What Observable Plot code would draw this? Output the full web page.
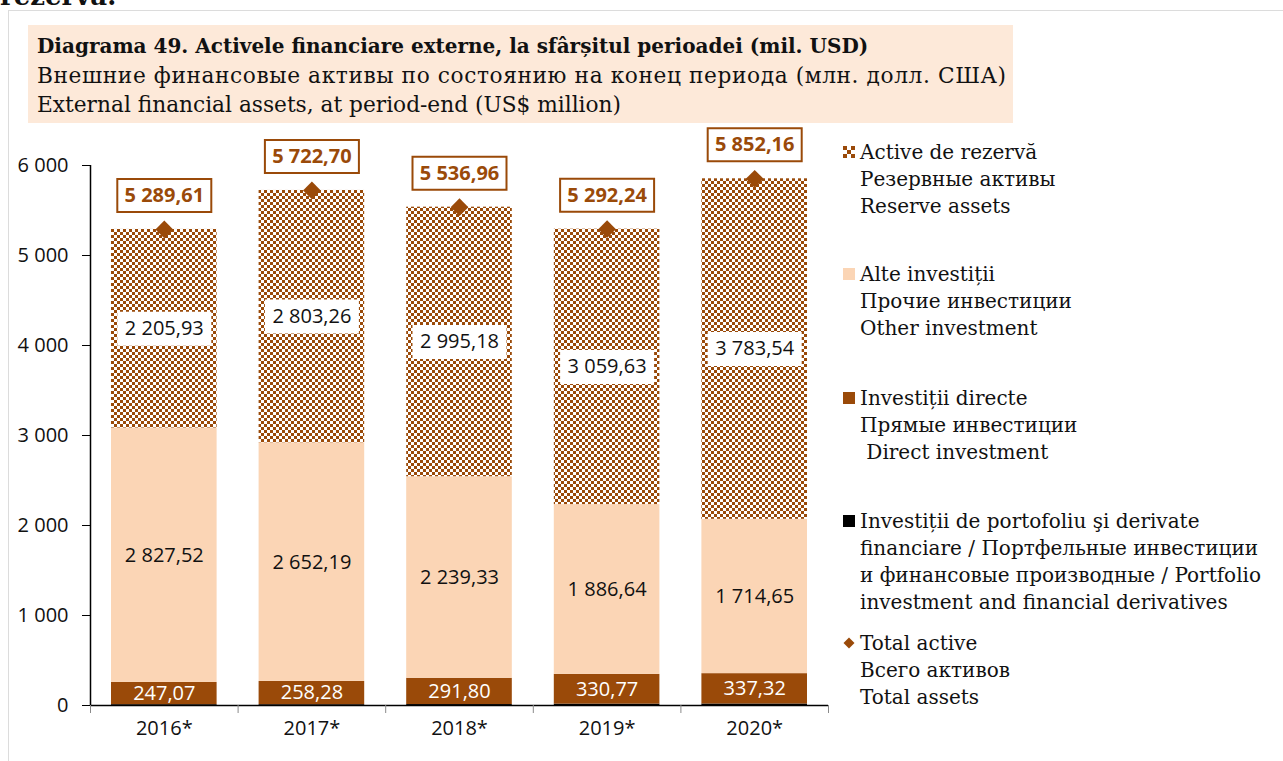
<!DOCTYPE html>
<html><head><meta charset="utf-8">
<script src="https://cdn.jsdelivr.net/npm/d3@7"></script>
<script src="https://cdn.jsdelivr.net/npm/@observablehq/plot@0.6"></script>
<style>
body{margin:0;background:#fff;width:1283px;height:761px;overflow:hidden;position:relative;font-family:"DejaVu Serif",serif;color:#111;}
#frame{position:absolute;left:8px;top:10px;width:1300px;height:800px;border:1px solid #dcdcdc;box-sizing:border-box;}
#cut{position:absolute;left:0;top:-19px;font-weight:bold;font-size:26px;line-height:30px;white-space:nowrap;}
#title{position:absolute;left:28px;top:25px;width:985px;height:98px;background:#FDE9D9;padding:5.5px 9px 0 9px;box-sizing:border-box;font-size:21.7px;line-height:29px;white-space:nowrap;}
#title b{font-size:20px;}
#title .ru{letter-spacing:0.6px;}
#chart{position:absolute;left:0;top:130px;}
.leg{position:absolute;left:860px;font-size:20px;line-height:27px;white-space:nowrap;}
.mk{position:absolute;left:-17px;top:7.5px;width:12px;height:12px;}
</style></head>
<body>
<div id="cut">rezervă.</div>
<div id="frame"></div>
<div id="title"><b>Diagrama 49. Activele financiare externe, la sfârșitul perioadei (mil. USD)</b><br><span class="ru">Внешние финансовые активы по состоянию на конец периода (млн. долл. США)</span><br>External financial assets, at period-end (US$ million)</div>
<div id="chart"></div>
<div id="legend"></div>
<script>
// ---- data ----
const years = ["2016*", "2017*", "2018*", "2019*", "2020*"];
const portfolio = [9.09, 8.97, 10.65, 15.20, 16.65];
const direct = [247.07, 258.28, 291.80, 330.77, 337.32];
const other = [2827.52, 2652.19, 2239.33, 1886.64, 1714.65];
const reserve = [2205.93, 2803.26, 2995.18, 3059.63, 3783.54];
const total = [5289.61, 5722.70, 5536.96, 5292.24, 5852.16];
const yTicks = [0, 1000, 2000, 3000, 4000, 5000, 6000];
const legendItems = [
  {key: "reserve", lines: ["Active de rezervă", "Резервные активы", "Reserve assets"]},
  {key: "other", lines: ["Alte investiții", "Прочие инвестиции", "Other investment"]},
  {key: "direct", lines: ["Investiții directe", "Прямые инвестиции", "&nbsp;Direct investment"]},
  {key: "portfolio", lines: ["Investiții de portofoliu şi derivate", "financiare / Портфельные инвестиции", "и финансовые производные / Portfolio", "investment and financial derivatives"]},
  {key: "total", lines: ["Total active", "Всего активов", "Total assets"]}
];

const BROWN = "#9A4A09";
const PEACH = "#FBD5B5";
const loc = d3.formatLocale({decimal: ",", thousands: " ", grouping: [3], currency: ["", ""]});
const f2 = loc.format(",.2f");
const f0 = loc.format(",.0f");

const series = [
  {key: "portfolio", values: portfolio, fill: "#000"},
  {key: "direct", values: direct, fill: BROWN},
  {key: "other", values: other, fill: PEACH},
  {key: "reserve", values: reserve, fill: "url(#checker)"}
];
const rows = [];
years.forEach((y, i) => {
  let acc = 0;
  series.forEach(s => {
    const v = s.values[i];
    rows.push({i, xc: i + 0.5, key: s.key, v, y1: acc, y2: acc + v, mid: acc + v / 2});
    acc += v;
  });
});
const totals = years.map((y, i) => ({i, xc: i + 0.5, total: total[i]}));

// rectangular label-box symbol (fixed pixel size)
const boxSymbol = (w, h) => ({draw(ctx) { ctx.moveTo(-w / 2, -h / 2); ctx.lineTo(w / 2, -h / 2); ctx.lineTo(w / 2, h / 2); ctx.lineTo(-w / 2, h / 2); ctx.closePath(); }});

const marks = [];
series.forEach(s => {
  marks.push(Plot.rect(rows.filter(r => r.key === s.key), {
    x1: "i", x2: d => d.i + 1, y1: "y1", y2: "y2", fill: s.fill, insetLeft: 21, insetRight: 21
  }));
});
const reserveRows = rows.filter(r => r.key === "reserve");
marks.push(
  Plot.ruleX([0], {stroke: "#000", strokeWidth: 1.5}),
  Plot.ruleY([0], {stroke: "#000", strokeWidth: 1.5}),
  Plot.axisY(yTicks, {tickSize: 8, tickPadding: 14, tickFormat: f0, label: null, stroke: "#000", fill: "#111"}),
  Plot.axisX(d3.range(years.length + 1), {tickSize: 8, tickFormat: () => "", label: null, stroke: "#8a8a8a"}),
  Plot.axisX(years.map((y, i) => i + 0.5), {tickSize: 0, tickPadding: 15, tickFormat: d => years[Math.floor(d)], label: null, fill: "#111"}),
  Plot.text(rows.filter(r => r.key === "direct"), {x: "xc", y: "mid", text: d => f2(d.v), fill: "#fff", fontSize: 20}),
  Plot.text(rows.filter(r => r.key === "other"), {x: "xc", y: "mid", text: d => f2(d.v), fill: "#111", fontSize: 20}),
  Plot.dot(reserveRows, {x: "xc", y: "mid", symbol: boxSymbol(94, 34), r: 1, fill: "#fff", stroke: "none"}),
  Plot.text(reserveRows, {x: "xc", y: "mid", text: d => f2(d.v), fill: "#111", fontSize: 20}),
  Plot.dot(totals, {x: "xc", y: "total", symbol: "diamond2", r: 8, fill: BROWN, stroke: "none"}),
  Plot.dot(totals, {x: "xc", y: "total", dy: -34, symbol: boxSymbol(94, 33), r: 1, fill: "#fff", stroke: BROWN, strokeWidth: 2}),
  Plot.text(totals, {x: "xc", y: "total", dy: -34, text: d => f2(d.total), fill: BROWN, fontWeight: "bold", fontSize: 20})
);

const svg = Plot.plot({
  width: 840, height: 630,
  marginLeft: 90, marginRight: 12, marginTop: 35, marginBottom: 55,
  x: {type: "linear", domain: [0, years.length], label: null},
  y: {domain: [0, 6000], label: null},
  style: {fontFamily: "'Open Sans', sans-serif", fontSize: "20px", color: "#111", background: "transparent", overflow: "visible"},
  marks
});
// pattern defs
const defs = d3.select(svg).insert("defs", ":first-child");
const pat = defs.append("pattern").attr("id", "checker").attr("patternUnits", "userSpaceOnUse").attr("width", 6).attr("height", 6);
pat.append("rect").attr("width", 6).attr("height", 6).attr("fill", "#fff");
pat.append("rect").attr("width", 3).attr("height", 3).attr("fill", BROWN);
pat.append("rect").attr("x", 3).attr("y", 3).attr("width", 3).attr("height", 3).attr("fill", BROWN);
document.getElementById("chart").append(svg);

// legend
const legTops = [138.5, 260.5, 384.5, 507.5, 629.5];
const leg = document.getElementById("legend");
legendItems.forEach((it, k) => {
  const d = document.createElement("div");
  d.className = "leg";
  d.style.top = legTops[k] + "px";
  let mk = "";
  if (it.key === "reserve") {
    mk = `<svg class="mk" viewBox="0 0 12 12"><defs><pattern id="chk2" patternUnits="userSpaceOnUse" width="8" height="8"><rect width="8" height="8" fill="#fff"/><rect width="4" height="4" fill="${BROWN}"/><rect x="4" y="4" width="4" height="4" fill="${BROWN}"/></pattern></defs><rect width="12" height="12" fill="url(#chk2)"/></svg>`;
  } else if (it.key === "other") {
    mk = `<div class="mk" style="background:${PEACH}"></div>`;
  } else if (it.key === "direct") {
    mk = `<div class="mk" style="background:${BROWN}"></div>`;
  } else if (it.key === "portfolio") {
    mk = `<div class="mk" style="background:#000"></div>`;
  } else {
    mk = `<svg class="mk" viewBox="0 0 12 12"><path d="M6 0.5L11.5 6L6 11.5L0.5 6Z" fill="${BROWN}"/></svg>`;
  }
  d.innerHTML = mk + it.lines.join("<br>");
  leg.append(d);
});
</script>
</body></html>
